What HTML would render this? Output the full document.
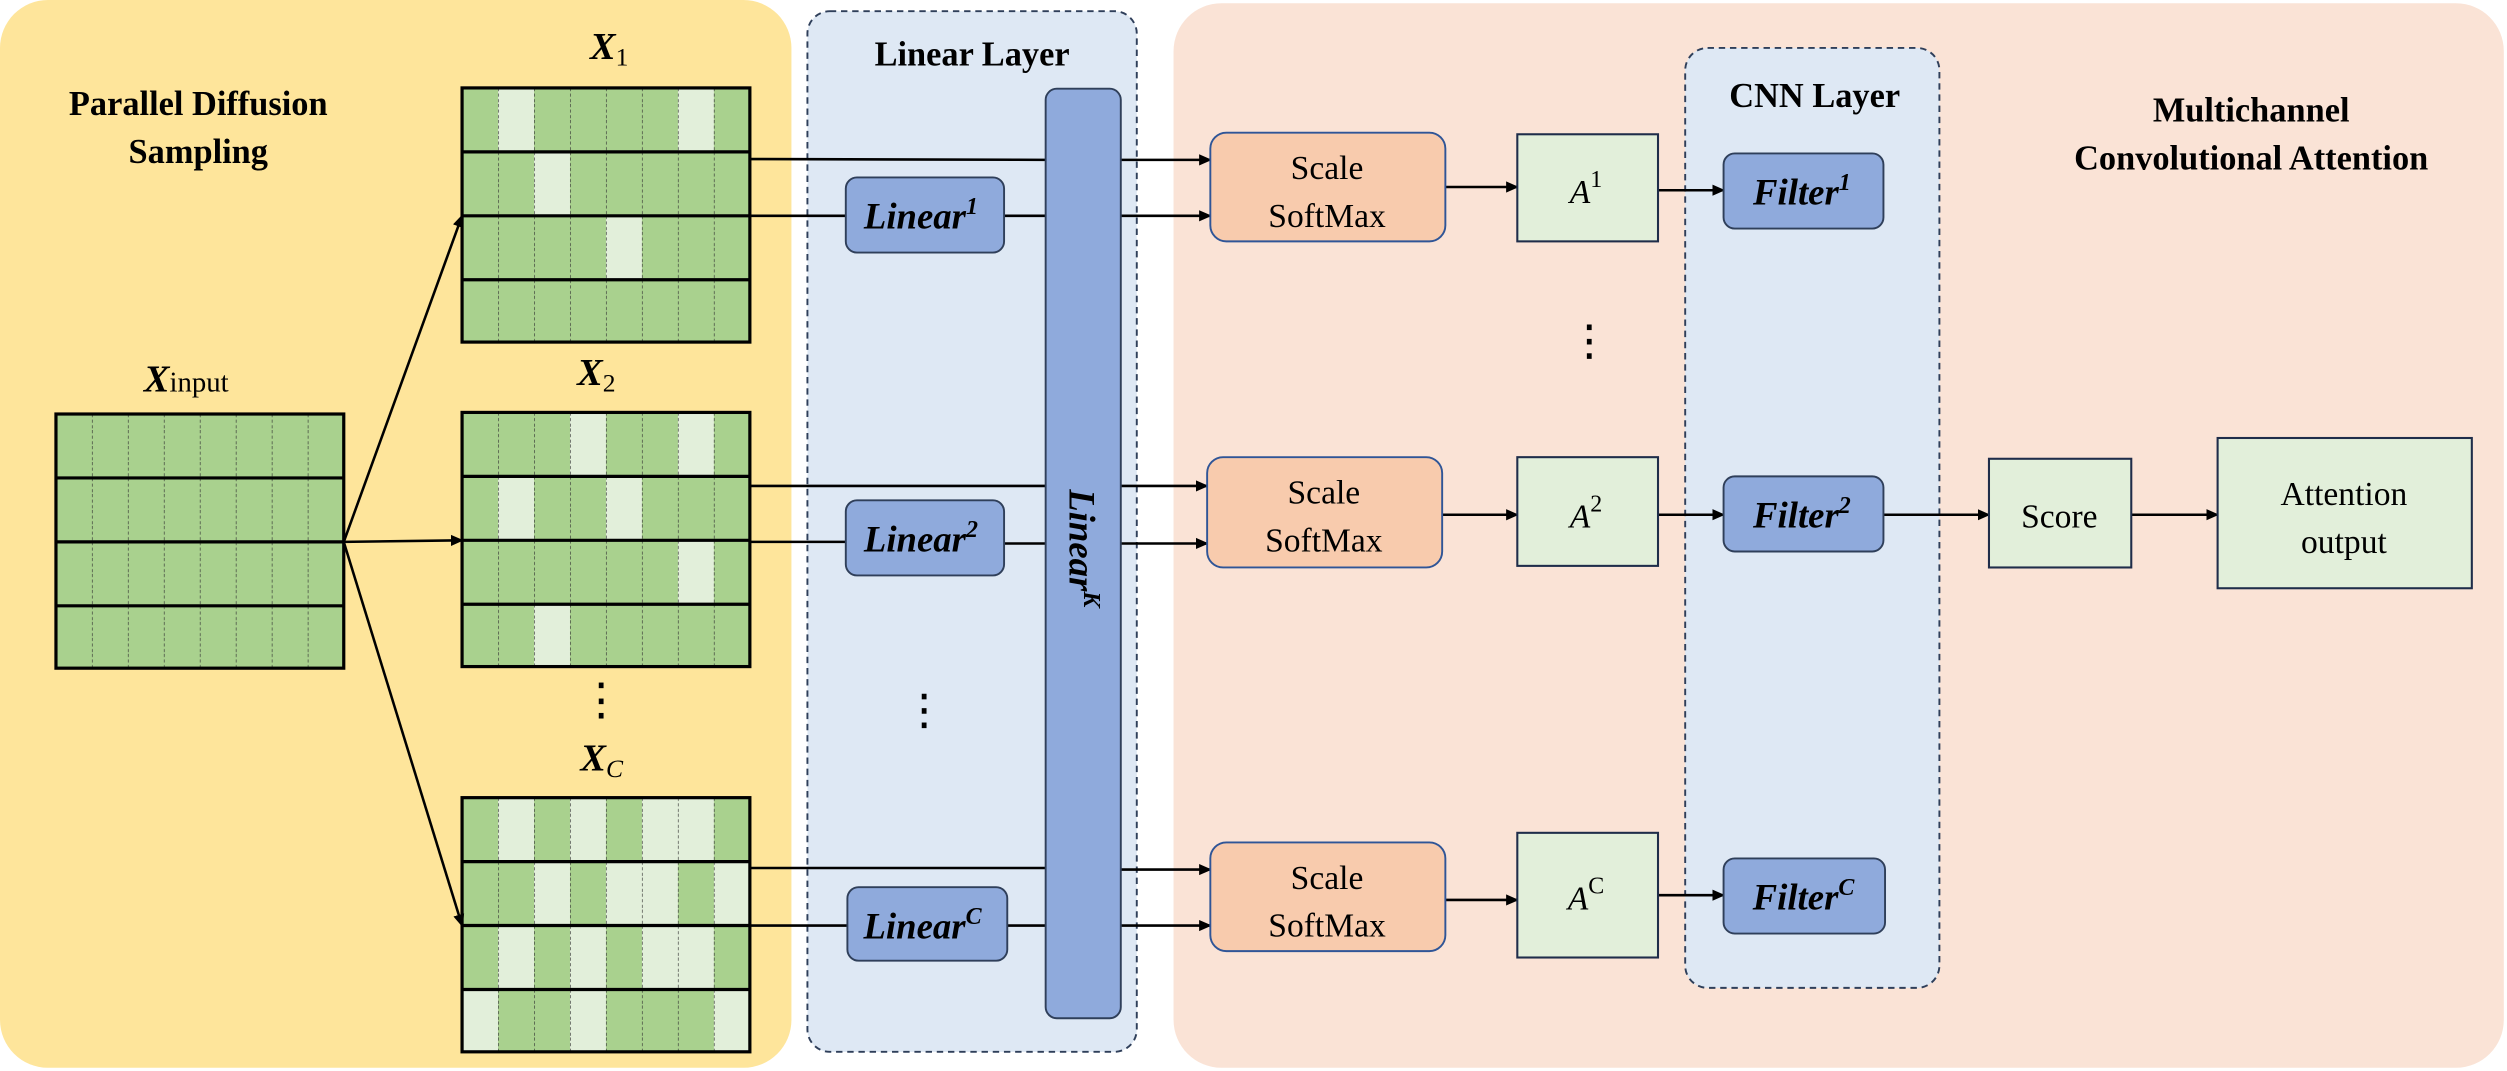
<!DOCTYPE html>
<html><head><meta charset="utf-8"><style>
html,body{margin:0;padding:0;background:#fff}
svg{display:block}
text{font-family:"Liberation Serif",serif}
</style></head><body>
<svg width="2507" height="1071" viewBox="0 0 1568 670" preserveAspectRatio="none" xmlns="http://www.w3.org/2000/svg">
<defs>
<marker id="ah" markerWidth="8" markerHeight="8" refX="7" refY="4" orient="auto" markerUnits="userSpaceOnUse">
<path d="M0,0.5 L8,4 L0,7.5 Z" fill="#000"/></marker>
<pattern id="cols" width="22.5" height="10" patternUnits="userSpaceOnUse" x="0" y="0">
<line x1="0" y1="0" x2="0" y2="10" stroke="#333" stroke-width="0.8" stroke-dasharray="2,1.5"/>
</pattern>
</defs>
<rect x="0" y="0" width="495" height="668" rx="30" fill="#FEE59B"/>
<rect x="734" y="2" width="832" height="666" rx="30" fill="#FAE3D6"/>
<rect x="505" y="7" width="206" height="651" rx="14" fill="#DEE8F4" stroke="#2F3F5A" stroke-width="1.2" stroke-dasharray="4,3"/>
<rect x="1054" y="30" width="159" height="588" rx="14" fill="#DEE8F4" stroke="#2F3F5A" stroke-width="1.2" stroke-dasharray="4,3"/>

<g font-weight="bold" font-size="21.5" text-anchor="middle" fill="#000">
<text x="124" y="72">Parallel Diffusion</text>
<text x="124" y="102">Sampling</text>
<text x="608" y="41">Linear  Layer</text>
<text x="1135" y="67">CNN  Layer</text>
<text x="1408" y="76">Multichannel</text>
<text x="1408" y="106">Convolutional Attention</text>
</g>

<g font-weight="bold" font-style="italic" font-size="24" fill="#000">
<text x="90" y="245">X<tspan font-weight="normal" font-style="normal" font-size="18">input</tspan></text>
<text x="369" y="37">X<tspan font-weight="normal" font-style="normal" font-size="16" dy="4">1</tspan></text>
<text x="361" y="241">X<tspan font-weight="normal" font-style="normal" font-size="16" dy="4">2</tspan></text>
<text x="363" y="482">X<tspan font-weight="normal" font-size="16" dy="4">C</tspan></text>
</g>

<g transform="translate(35,259)">
<rect width="180" height="159" fill="#A9D18E"/>
<rect width="180" height="159" fill="url(#cols)"/>
<g stroke="#000" stroke-width="2" fill="none"><rect width="180" height="159"/>
<line x1="0" y1="40" x2="180" y2="40"/><line x1="0" y1="80" x2="180" y2="80"/><line x1="0" y1="120" x2="180" y2="120"/></g>
</g>
<g transform="translate(289,55)">
<rect width="180" height="159" fill="#A9D18E"/>
<g fill="#E2EFDA"><rect x="22.5" y="0" width="22.5" height="40"/><rect x="135" y="0" width="22.5" height="40"/>
<rect x="45" y="40" width="22.5" height="40"/><rect x="90" y="80" width="22.5" height="40"/></g>
<rect width="180" height="159" fill="url(#cols)"/>
<g stroke="#000" stroke-width="2" fill="none"><rect width="180" height="159"/>
<line x1="0" y1="40" x2="180" y2="40"/><line x1="0" y1="80" x2="180" y2="80"/><line x1="0" y1="120" x2="180" y2="120"/></g>
</g>
<g transform="translate(289,258)">
<rect width="180" height="159" fill="#A9D18E"/>
<g fill="#E2EFDA"><rect x="67.5" y="0" width="22.5" height="40"/><rect x="135" y="0" width="22.5" height="40"/>
<rect x="22.5" y="40" width="22.5" height="40"/><rect x="90" y="40" width="22.5" height="40"/>
<rect x="135" y="80" width="22.5" height="40"/><rect x="45" y="120" width="22.5" height="39"/></g>
<rect width="180" height="159" fill="url(#cols)"/>
<g stroke="#000" stroke-width="2" fill="none"><rect width="180" height="159"/>
<line x1="0" y1="40" x2="180" y2="40"/><line x1="0" y1="80" x2="180" y2="80"/><line x1="0" y1="120" x2="180" y2="120"/></g>
</g>
<g transform="translate(289,499)">
<rect width="180" height="159" fill="#A9D18E"/>
<g fill="#E2EFDA">
<rect x="22.5" y="0" width="22.5" height="40"/><rect x="67.5" y="0" width="22.5" height="40"/><rect x="112.5" y="0" width="45" height="40"/>
<rect x="45" y="40" width="22.5" height="40"/><rect x="90" y="40" width="45" height="40"/><rect x="157.5" y="40" width="22.5" height="40"/>
<rect x="22.5" y="80" width="22.5" height="40"/><rect x="67.5" y="80" width="22.5" height="40"/><rect x="112.5" y="80" width="45" height="40"/>
<rect x="0" y="120" width="22.5" height="39"/><rect x="67.5" y="120" width="22.5" height="39"/><rect x="157.5" y="120" width="22.5" height="39"/>
</g>
<rect width="180" height="159" fill="url(#cols)"/>
<g stroke="#000" stroke-width="2" fill="none"><rect width="180" height="159"/>
<line x1="0" y1="40" x2="180" y2="40"/><line x1="0" y1="80" x2="180" y2="80"/><line x1="0" y1="120" x2="180" y2="120"/></g>
</g>

<g stroke="#000" stroke-width="1.6" fill="none" marker-end="url(#ah)">
<line x1="215" y1="339" x2="289" y2="135"/>
<line x1="215" y1="339" x2="289" y2="338"/>
<line x1="215" y1="339" x2="289" y2="579"/>
</g>

<g fill="#000">
<rect x="374.5" y="427" width="3" height="3.5"/><rect x="374.5" y="437" width="3" height="3.5"/><rect x="374.5" y="446" width="3" height="3.5"/>
<rect x="576.5" y="434" width="3" height="3.5"/><rect x="576.5" y="443" width="3" height="3.5"/><rect x="576.5" y="452" width="3" height="3.5"/>
<rect x="992.5" y="203" width="3" height="3.5"/><rect x="992.5" y="212" width="3" height="3.5"/><rect x="992.5" y="221" width="3" height="3.5"/>
</g>

<g stroke="#000" stroke-width="1.6" fill="none">
<line x1="469" y1="99.5" x2="655" y2="100"/>
<line x1="469" y1="304" x2="655" y2="304"/>
<line x1="469" y1="543" x2="655" y2="543"/>
<line x1="469" y1="135" x2="530" y2="135"/>
<line x1="469" y1="339" x2="530" y2="339"/>
<line x1="469" y1="579" x2="530" y2="579"/>
</g>
<g stroke="#000" stroke-width="1.6" fill="none" marker-end="url(#ah)">
<line x1="701" y1="100" x2="757" y2="100"/>
<line x1="701" y1="304" x2="755" y2="304"/>
<line x1="701" y1="544" x2="757" y2="544"/>
<line x1="628" y1="135" x2="757" y2="135"/>
<line x1="628" y1="340" x2="755" y2="340"/>
<line x1="630" y1="579" x2="757" y2="579"/>
<line x1="904" y1="117" x2="949" y2="117"/>
<line x1="902" y1="322" x2="949" y2="322"/>
<line x1="904" y1="563" x2="949" y2="563"/>
<line x1="1037" y1="119" x2="1078" y2="119"/>
<line x1="1037" y1="322" x2="1078" y2="322"/>
<line x1="1037" y1="560" x2="1078" y2="560"/>
<line x1="1178" y1="322" x2="1244" y2="322"/>
<line x1="1333" y1="322" x2="1387" y2="322"/>
</g>

<g fill="#8FAADC" stroke="#2F3F5A" stroke-width="1.2">
<rect x="529" y="111" width="99" height="47" rx="7"/>
<rect x="529" y="313" width="99" height="47" rx="7"/>
<rect x="530" y="555" width="100" height="46" rx="7"/>
<rect x="654" y="55.5" width="47" height="581.5" rx="7"/>
<rect x="1078" y="96" width="100" height="47" rx="7"/>
<rect x="1078" y="298" width="100" height="47" rx="7"/>
<rect x="1078" y="537" width="101" height="47" rx="7"/>
</g>
<g font-weight="bold" font-style="italic" font-size="23" fill="#000" text-anchor="middle">
<text x="576" y="143">Linear<tspan font-size="15" dy="-9">1</tspan></text>
<text x="576" y="345">Linear<tspan font-size="15" dy="-9">2</tspan></text>
<text x="577" y="587">Linear<tspan font-size="15" dy="-9">C</tspan></text>
<text x="1127" y="128">Filter<tspan font-size="15" dy="-9">1</tspan></text>
<text x="1127" y="330">Filter<tspan font-size="15" dy="-9">2</tspan></text>
<text x="1128" y="569">Filter<tspan font-size="15" dy="-9">C</tspan></text>
<text transform="translate(669,343) rotate(90)" x="0" y="0">Linear<tspan font-size="15" dy="-9">K</tspan></text>
</g>

<g fill="#F8CBAD" stroke="#2F5597" stroke-width="1.2">
<rect x="757" y="83" width="147" height="68" rx="10"/>
<rect x="755" y="286" width="147" height="69" rx="10"/>
<rect x="757" y="527" width="147" height="68" rx="10"/>
</g>
<g font-size="21" fill="#000" text-anchor="middle">
<text x="830" y="112">Scale</text><text x="830" y="142">SoftMax</text>
<text x="828" y="315">Scale</text><text x="828" y="345">SoftMax</text>
<text x="830" y="556">Scale</text><text x="830" y="586">SoftMax</text>
</g>

<g fill="#E2EFDA" stroke="#1F2D4A" stroke-width="1.3">
<rect x="949" y="84" width="88" height="67"/>
<rect x="949" y="286" width="88" height="68"/>
<rect x="949" y="521" width="88" height="78"/>
<rect x="1244" y="287" width="89" height="68"/>
<rect x="1387" y="274" width="159" height="94"/>
</g>
<g font-size="21" fill="#000" text-anchor="middle">
<text x="992" y="127" font-style="italic">A<tspan font-style="normal" font-size="15" dy="-10">1</tspan></text>
<text x="992" y="330" font-style="italic">A<tspan font-style="normal" font-size="15" dy="-10">2</tspan></text>
<text x="992" y="569" font-style="italic">A<tspan font-style="normal" font-size="15" dy="-10">C</tspan></text>
<text x="1288" y="330">Score</text>
<text x="1466" y="316">Attention</text>
<text x="1466" y="346">output</text>
</g>
</svg>
</body></html>
